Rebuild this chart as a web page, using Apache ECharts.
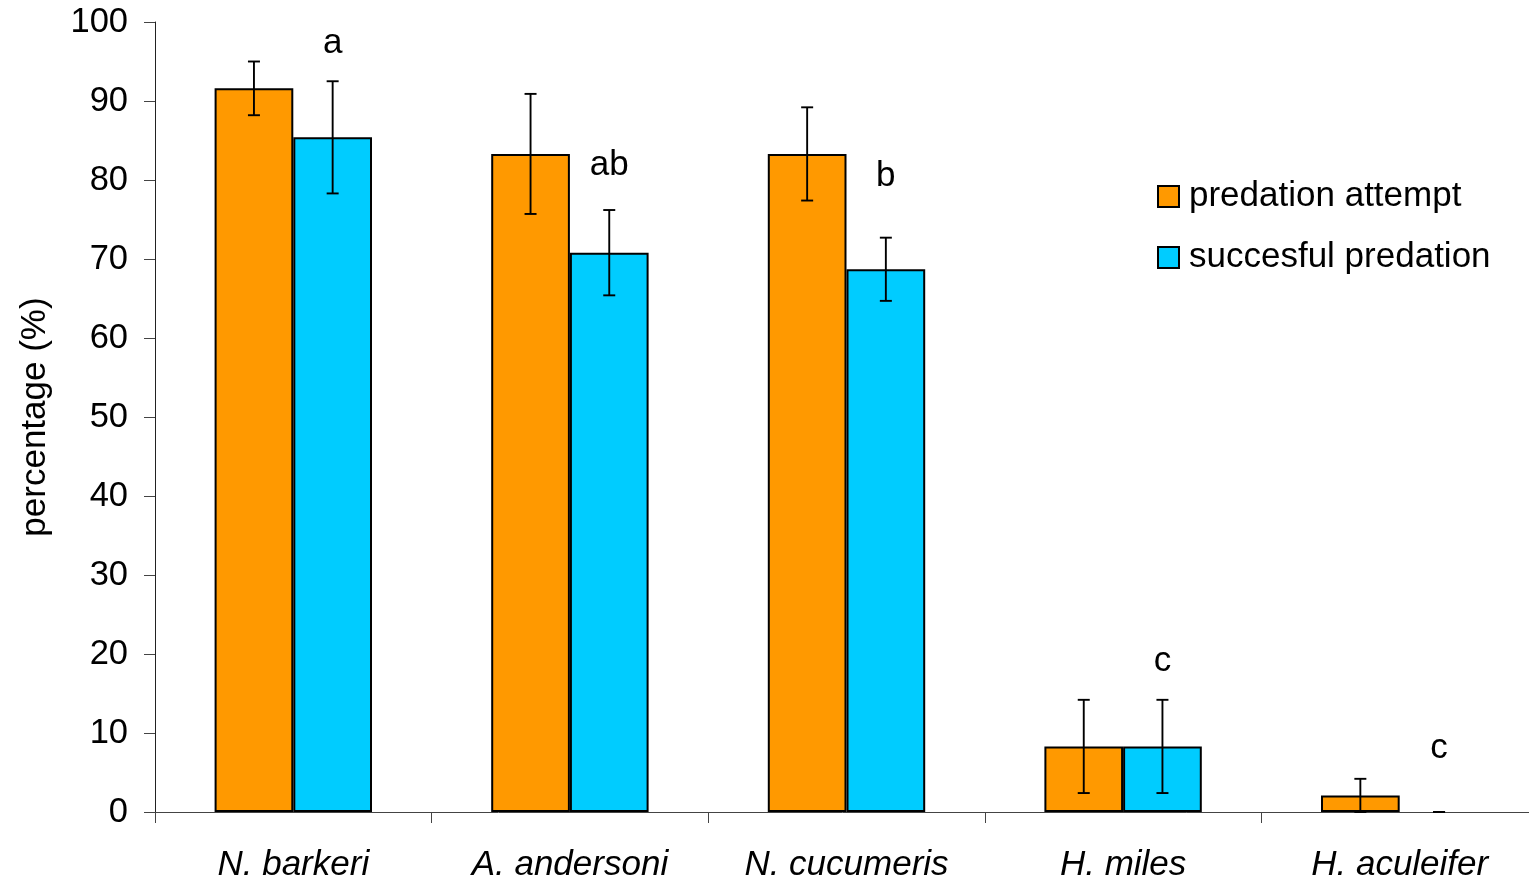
<!DOCTYPE html>
<html>
<head>
<meta charset="utf-8">
<script src="https://cdn.jsdelivr.net/npm/echarts@6/dist/echarts.min.js"></script>
<style>
html,body{margin:0;padding:0;background:#fff;}
#chart{width:1529px;height:882px;}
</style>
</head>
<body>
<div id="chart"></div>
<script>
const categories = ['N. barkeri', 'A. andersoni', 'N. cucumeris', 'H. miles', 'H. aculeifer'];
const attemptValues = [91.6, 83.3, 83.3, 8.3, 2.1];
const attemptErrors = [3.4, 7.6, 5.9, 5.9, 2.1];
const successValues = [85.4, 70.8, 68.7, 8.3, 0];
const successErrors = [7.1, 5.4, 4.0, 5.9, 0];
const letters = ['a', 'ab', 'b', 'c', 'c'];
const letterHeights = [97.3, 81.9, 80.4, 19.1, 8.1];
const yTicks = [0, 10, 20, 30, 40, 50, 60, 70, 80, 90, 100];

const FONT = '"Liberation Sans", Arial, sans-serif';
const BAR_W = 78.7;
const chart = echarts.init(document.getElementById('chart'));

function errorSeries(values, errors, offset) {
  return {
    type: 'custom',
    silent: true,
    z: 5,
    data: values.map((v, i) => [i, v, errors[i]]),
    renderItem: function (params, api) {
      const i = api.value(0), v = api.value(1), e = api.value(2);
      const top = api.coord([i, v + e]);
      const bot = api.coord([i, v - e]);
      const x = top[0] + offset;
      const cap = 6;
      const style = { stroke: '#000', lineWidth: 1.9 };
      return {
        type: 'group',
        children: [
          { type: 'line', shape: { x1: x, y1: top[1], x2: x, y2: bot[1] }, style: style },
          { type: 'line', shape: { x1: x - cap, y1: top[1], x2: x + cap, y2: top[1] }, style: style },
          { type: 'line', shape: { x1: x - cap, y1: bot[1], x2: x + cap, y2: bot[1] }, style: style }
        ]
      };
    }
  };
}

const option = {
  animation: false,
  backgroundColor: '#fff',
  grid: { left: 155, top: 22, bottom: 70, right: -9, containLabel: false, outerBoundsMode: 'none' },
  legend: {
    orient: 'vertical',
    left: 1157,
    top: 179,
    padding: 0,
    itemWidth: 21,
    itemHeight: 21,
    itemGap: 26,
    icon: 'rect',
    data: ['predation attempt', 'succesful predation'],
    textStyle: { fontFamily: FONT, fontSize: 35, color: '#000', lineHeight: 34, padding: [0, 0, 0, 5] }
  },
  xAxis: {
    type: 'category',
    data: categories,
    axisLine: { lineStyle: { color: '#444', width: 1 } },
    axisTick: { show: true, length: 11, lineStyle: { color: '#444' } },
    axisLabel: { fontFamily: FONT, fontSize: 35, fontStyle: 'italic', color: '#000', margin: 36, interval: 0 },
    splitLine: { show: false }
  },
  yAxis: {
    type: 'value',
    min: 0,
    max: 100,
    interval: 10,
    name: 'percentage (%)',
    nameLocation: 'middle',
    nameGap: 102,
    nameTextStyle: { fontFamily: FONT, fontSize: 35, color: '#000' },
    axisLine: { show: true, lineStyle: { color: '#222', width: 1 } },
    axisTick: { show: true, length: 11, lineStyle: { color: '#444' } },
    axisLabel: {
      fontFamily: FONT, fontSize: 34.5, color: '#000', margin: 27,
      formatter: function (v) { return yTicks.indexOf(v) >= 0 ? String(v) : ''; }
    },
    splitLine: { show: false }
  },
  series: [
    {
      name: 'predation attempt',
      type: 'bar',
      barWidth: BAR_W,
      barGap: '0%',
      data: attemptValues,
      itemStyle: { color: '#FF9900', borderColor: '#000', borderWidth: 2 }
    },
    {
      name: 'succesful predation',
      type: 'bar',
      barWidth: BAR_W,
      barGap: '0%',
      data: successValues.map(v => v === 0 ? { value: v, itemStyle: { borderWidth: 0 } } : v),
      itemStyle: { color: '#00CCFF', borderColor: '#000', borderWidth: 2 }
    },
    errorSeries(attemptValues, attemptErrors, -BAR_W / 2),
    errorSeries(successValues, successErrors, BAR_W / 2),
    {
      type: 'custom',
      silent: true,
      z: 6,
      data: letterHeights.map((v, i) => [i, v]),
      renderItem: function (params, api) {
        const p = api.coord([api.value(0), api.value(1)]);
        return {
          type: 'text',
          x: p[0] + BAR_W / 2,
          y: p[1],
          style: {
            text: letters[params.dataIndex],
            fill: '#000',
            font: '35px ' + FONT,
            align: 'center',
            verticalAlign: 'middle'
          }
        };
      }
    }
  ]
};
chart.setOption(option);
</script>
</body>
</html>
